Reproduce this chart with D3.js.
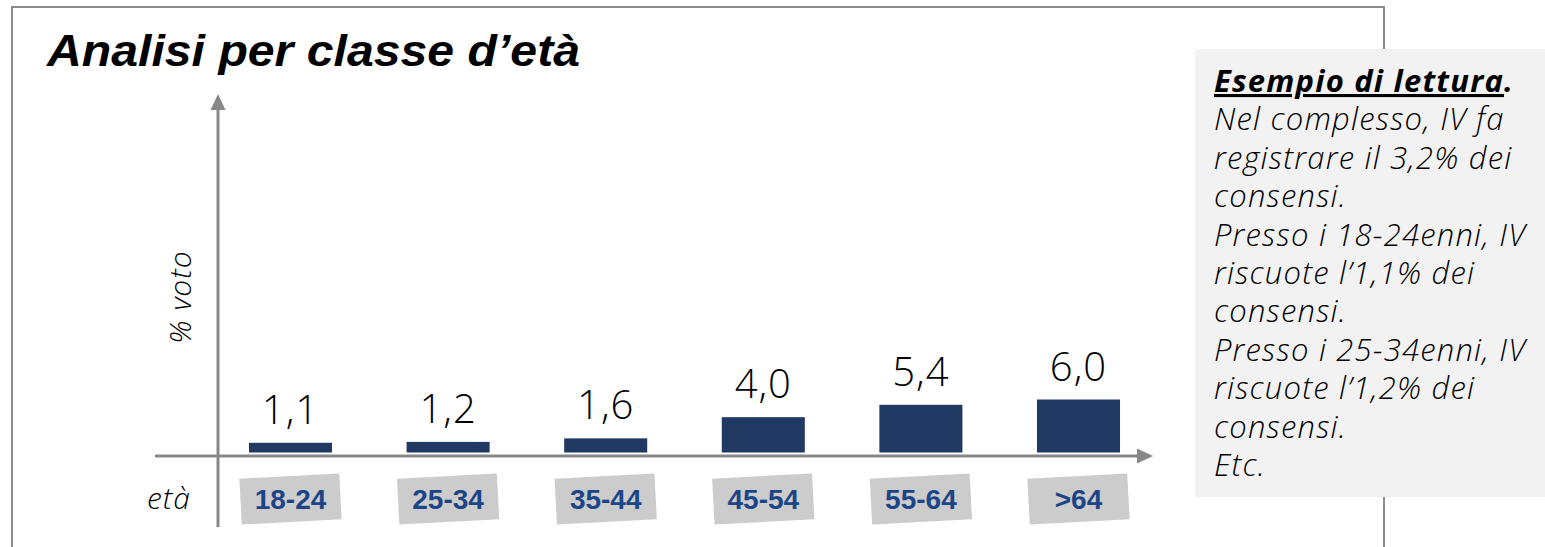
<!DOCTYPE html>
<html>
<head>
<meta charset="utf-8">
<title>Analisi per classe d'età</title>
<script src="https://d3js.org/d3.v7.min.js"></script>
<style>
body { margin: 0; background: #fff; }
svg { display: block; }
.light { font-family: 'Open Sans', 'Lato', sans-serif; font-weight: 300; }
.cat { font-family: 'Liberation Sans', Arial, sans-serif; font-weight: bold; fill: #1c4587; }
</style>
</head>
<body>
<svg id="chart" width="1545" height="547"></svg>
<script>
// data
var categories = ["18-24", "25-34", "35-44", "45-54", "55-64", ">64"];
var values = [1.1, 1.2, 1.6, 4.0, 5.4, 6.0];
var titleText = "Analisi per classe d\u2019età";
var noteHead = "Esempio di lettura";
var noteLines = [
	"Nel complesso, IV fa",
	"registrare il 3,2% dei",
	"consensi.",
	"Presso i 18-24enni, IV",
	"riscuote l\u20191,1% dei",
	"consensi.",
	"Presso i 25-34enni, IV",
	"riscuote l\u20191,2% dei",
	"consensi.",
	"Etc."
];

var width = 1545, height = 547;
var svg = d3.select("#chart");
var itFormat = d3.formatLocale({decimal: ",", thousands: ".", grouping: [3], currency: ["", "€"]}).format(".1f");

// outer frame (bottom goes past the picture)
svg.append("rect")
	.attr("x", 12).attr("y", 7)
	.attr("width", 1372).attr("height", 600)
	.attr("fill", "none")
	.attr("stroke", "#8c8c8c")
	.attr("stroke-width", 2);

// title
svg.append("text")
	.attr("x", 47).attr("y", 66)
	.attr("font-family", "'Liberation Sans', Arial, sans-serif")
	.attr("font-weight", "bold")
	.attr("font-style", "italic")
	.attr("font-size", 44)
	.attr("textLength", 533)
	.attr("lengthAdjust", "spacingAndGlyphs")
	.text(titleText);

// scales
var x = d3.scaleBand()
	.domain(categories)
	.range([211.7, 1157.3])
	.paddingInner(0.473)
	.paddingOuter(0.2365);

var y = d3.scaleLinear()
	.domain([0, 6])
	.range([452.5, 399.5]);

// axes with arrows
var axisColor = "#888888";
var axisY = 456, axisX = 218;

svg.append("line")
	.attr("x1", 155).attr("x2", 1138)
	.attr("y1", axisY).attr("y2", axisY)
	.attr("stroke", axisColor).attr("stroke-width", 3);
svg.append("path")
	.attr("d", "M1137," + (axisY - 7.5) + "L1153," + axisY + "L1137," + (axisY + 7.5) + "Z")
	.attr("fill", axisColor);

svg.append("line")
	.attr("x1", axisX).attr("x2", axisX)
	.attr("y1", 109).attr("y2", 527)
	.attr("stroke", axisColor).attr("stroke-width", 3);
svg.append("path")
	.attr("d", "M" + (axisX - 7.5) + ",110L" + axisX + ",94L" + (axisX + 7.5) + ",110Z")
	.attr("fill", axisColor);

// axis titles
svg.append("text")
	.attr("class", "light")
	.attr("x", 191).attr("y", 509)
	.attr("text-anchor", "end")
	.attr("font-style", "italic")
	.attr("font-size", 30)
	.attr("letter-spacing", 1)
	.text("età");

svg.append("text")
	.attr("class", "light")
	.attr("transform", "translate(191,297) rotate(-90)")
	.attr("text-anchor", "middle")
	.attr("font-style", "italic")
	.attr("font-size", 30)
	.attr("letter-spacing", 1)
	.text("% voto");

// bars
svg.selectAll("rect.bar")
	.data(values)
	.enter()
	.append("rect")
	.attr("class", "bar")
	.attr("x", function(d, i){ return x(categories[i]); })
	.attr("y", function(d){ return y(d); })
	.attr("width", x.bandwidth())
	.attr("height", function(d){ return y(0) - y(d); })
	.attr("fill", "#213a64");

// value labels
svg.selectAll("text.val")
	.data(values)
	.enter()
	.append("text")
	.attr("class", "val light")
	.attr("x", function(d, i){ return x(categories[i]) + x.bandwidth() / 2; })
	.attr("y", function(d){ return y(d) - 19; })
	.attr("text-anchor", "middle")
	.attr("font-size", 40)
	.attr("letter-spacing", 1)
	.text(function(d){ return itFormat(d); });

// category labels in tilted grey boxes
var catG = svg.selectAll("g.catbox")
	.data(categories)
	.enter()
	.append("g")
	.attr("class", "catbox")
	.attr("transform", function(d){ return "translate(" + (x(d) + x.bandwidth() / 2) + ",499)"; });

catG.append("rect")
	.attr("x", -50).attr("y", -23)
	.attr("width", 100).attr("height", 46)
	.attr("fill", "#cccccc")
	.attr("transform", "rotate(-3)");

catG.append("text")
	.attr("class", "cat")
	.attr("y", 10)
	.attr("text-anchor", "middle")
	.attr("font-size", 28)
	.text(function(d){ return d; });

// reading example box
svg.append("rect")
	.attr("x", 1195).attr("y", 49)
	.attr("width", 350).attr("height", 448)
	.attr("fill", "#f2f2f2");

var note = svg.append("text")
	.attr("class", "light")
	.attr("x", 1214)
	.attr("font-style", "italic")
	.attr("font-size", 31)
	.attr("letter-spacing", 1.2);

var head = note.append("tspan")
	.attr("x", 1214).attr("y", 92)
	.attr("font-weight", "bold");
head.append("tspan")
	.attr("text-decoration", "underline")
	.text(noteHead);
head.append("tspan").text(".");

note.selectAll("tspan.line")
	.data(noteLines)
	.enter()
	.append("tspan")
	.attr("class", "line")
	.attr("x", 1214)
	.attr("y", function(d, i){ return 92 + 38.4 * (i + 1); })
	.text(function(d){ return d; });
</script>
</body>
</html>
